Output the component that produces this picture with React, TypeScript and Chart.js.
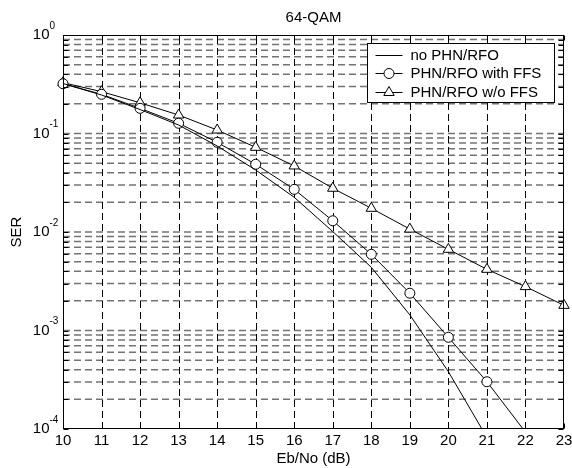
import React, { useEffect, useRef } from "react";
import { Chart, registerables } from "chart.js";

Chart.register(...registerables);

// ---- data ----
const ebNo = [10, 11, 12, 13, 14, 15, 16, 17, 18, 19, 20, 21, 22, 23];
const serNoPhn = [0.322, 0.246, 0.175, 0.122, 0.0747, 0.0426, 0.0225, 0.0101, 0.00438, 0.00144, 0.000382, 0.000082];
const serWithFfs = [0.32, 0.25, 0.18, 0.127, 0.0814, 0.0487, 0.0271, 0.013, 0.00594, 0.00239, 0.000853, 0.000302, 0.000093];
const serWithoutFfs = [0.328, 0.266, 0.205, 0.154, 0.1085, 0.0724, 0.0468, 0.0278, 0.0174, 0.0107, 0.00667, 0.00418, 0.00279, 0.0018];
const xTicks = [10, 11, 12, 13, 14, 15, 16, 17, 18, 19, 20, 21, 22, 23];
const yExponents = [0, -1, -2, -3, -4];
const minorSteps = [2, 3, 4, 5, 6, 7, 8, 9];
const chartTitle = "64-QAM";
const xTitle = "Eb/No (dB)";
const yTitle = "SER";
const legendLabels = ["no PHN/RFO", "PHN/RFO with FFS", "PHN/RFO w/o FFS"];
const legendStyles = ["none", "circle", "triangle"];

const FONT = '"Liberation Sans", Arial, sans-serif';

function toPoints(values: number[]) {
  return values.map((v, i) => ({ x: ebNo[i], y: v }));
}

function drawMarker(ctx: CanvasRenderingContext2D, style: string, x: number, y: number) {
  ctx.save();
  ctx.setLineDash([]);
  ctx.fillStyle = "#fff";
  ctx.strokeStyle = "#000";
  ctx.lineWidth = 1;
  ctx.beginPath();
  if (style === "circle") {
    ctx.arc(x, y, 5, 0, Math.PI * 2);
  } else if (style === "triangle") {
    const r = 6;
    let rad = 0;
    ctx.moveTo(x + Math.sin(rad) * r, y - Math.cos(rad) * r);
    rad += (2 * Math.PI) / 3;
    ctx.lineTo(x + Math.sin(rad) * r, y - Math.cos(rad) * r);
    rad += (2 * Math.PI) / 3;
    ctx.lineTo(x + Math.sin(rad) * r, y - Math.cos(rad) * r);
    ctx.closePath();
  } else {
    ctx.restore();
    return;
  }
  ctx.fill();
  ctx.stroke();
  ctx.restore();
}

const matlabPlugin = {
  id: "matlabAxes",
  beforeDatasetsDraw(chart: any) {
    const { ctx, chartArea: a, scales } = chart;
    const xs = scales.x;
    const ys = scales.y;
    ctx.save();
    ctx.setLineDash([7, 4]);
    // vertical grid
    ctx.strokeStyle = "#000";
    ctx.lineWidth = 1;
    for (const v of xTicks) {
      if (v === xTicks[0] || v === xTicks[xTicks.length - 1]) continue;
      const px = Math.round(xs.getPixelForValue(v)) + 0.5;
      ctx.beginPath();
      ctx.moveTo(px, a.bottom);
      ctx.lineTo(px, a.top);
      ctx.stroke();
    }
    // horizontal grid
    ctx.strokeStyle = "rgba(0,0,0,0.55)";
    ctx.lineWidth = 1.5;
    for (const e of yExponents) {
      const steps = [1, ...minorSteps];
      for (const m of steps) {
        const v = m * Math.pow(10, e);
        if (v >= 1 || v <= 1e-4) continue;
        const py = ys.getPixelForValue(v);
        ctx.beginPath();
        ctx.moveTo(a.left, py);
        ctx.lineTo(a.right, py);
        ctx.stroke();
      }
    }
    ctx.restore();
  },
  afterDatasetsDraw(chart: any) {
    const { ctx, chartArea: a, scales } = chart;
    const xs = scales.x;
    const ys = scales.y;
    ctx.save();
    ctx.setLineDash([]);
    ctx.strokeStyle = "#000";
    ctx.lineWidth = 1;
    // frame
    const L = Math.round(a.left) + 0.5;
    const R = Math.round(a.right) - 0.5;
    const T = Math.round(a.top) + 0.5;
    const B = Math.round(a.bottom) - 0.5;
    ctx.strokeRect(L, T, R - L, B - T);
    // ticks inward
    const tl = 5;
    ctx.beginPath();
    for (const v of xTicks) {
      const px = Math.round(xs.getPixelForValue(v)) + 0.5;
      ctx.moveTo(px, B);
      ctx.lineTo(px, B - tl);
      ctx.moveTo(px, T);
      ctx.lineTo(px, T + tl);
    }
    for (const e of yExponents) {
      for (const m of [1, ...minorSteps]) {
        const v = m * Math.pow(10, e);
        if (v > 1 || v < 1e-4) continue;
        const py = Math.round(ys.getPixelForValue(v)) + 0.5;
        ctx.moveTo(L, py);
        ctx.lineTo(L + tl, py);
        ctx.moveTo(R, py);
        ctx.lineTo(R - tl, py);
      }
    }
    ctx.stroke();

    // tick labels
    ctx.fillStyle = "#000";
    ctx.font = `15px ${FONT}`;
    ctx.textAlign = "center";
    ctx.textBaseline = "middle";
    for (const v of xTicks) {
      ctx.fillText(String(v), xs.getPixelForValue(v), a.bottom + 12);
    }
    for (const e of yExponents) {
      const py = ys.getPixelForValue(Math.pow(10, e));
      ctx.font = `15px ${FONT}`;
      ctx.textAlign = "right";
      ctx.fillText("10", a.left - 13.5, py);
      ctx.font = `10px ${FONT}`;
      ctx.textAlign = "left";
      ctx.fillText(String(e), a.left - 13.5, py - 9);
    }

    // titles
    ctx.font = `15px ${FONT}`;
    ctx.textAlign = "center";
    ctx.fillText(chartTitle, (a.left + a.right) / 2, a.top - 17);
    ctx.fillText(xTitle, (a.left + a.right) / 2, a.bottom + 30);
    ctx.save();
    ctx.translate(17, (a.top + a.bottom) / 2);
    ctx.rotate(-Math.PI / 2);
    ctx.fillText(yTitle, 0, 0);
    ctx.restore();

    // legend
    const bx = Math.round(a.right) - 197 + 0.5;
    const by = Math.round(a.top) + 8 + 0.5;
    const bw = 187;
    const bh = 59;
    ctx.fillStyle = "#fff";
    ctx.fillRect(bx, by, bw, bh);
    ctx.strokeRect(bx, by, bw, bh);
    ctx.fillStyle = "#000";
    ctx.textAlign = "left";
    ctx.textBaseline = "middle";
    for (let i = 0; i < legendLabels.length; i++) {
      const ry = Math.round(by + 11 + i * 18.5) + 0.5;
      ctx.beginPath();
      ctx.moveTo(bx + 8, ry);
      ctx.lineTo(bx + 35, ry);
      ctx.stroke();
      drawMarker(ctx, legendStyles[i], bx + 21.5, ry);
      ctx.fillStyle = "#000";
      ctx.font = `15px ${FONT}`;
      ctx.fillText(legendLabels[i], bx + 43, ry + 0.5);
    }
    ctx.restore();
  },
};

export default function App() {
  const ref = useRef<HTMLCanvasElement | null>(null);
  useEffect(() => {
    if (!ref.current) return;
    const radius = (r: number) => (c: any) => (c.raw && c.raw.y < 1e-4 ? 0 : r);
    const chart = new Chart(ref.current, {
      type: "line",
      data: {
        datasets: [
          {
            label: legendLabels[0],
            data: toPoints(serNoPhn),
            borderColor: "#000",
            borderWidth: 1,
            pointRadius: 0,
            fill: false,
            clip: { left: 10, top: 10, right: 10, bottom: 0 } as any,
          },
          {
            label: legendLabels[1],
            data: toPoints(serWithFfs),
            borderColor: "#000",
            borderWidth: 1,
            pointStyle: "circle",
            pointRadius: radius(5) as any,
            pointBackgroundColor: "#fff",
            pointBorderColor: "#000",
            pointBorderWidth: 1,
            fill: false,
            clip: { left: 10, top: 10, right: 10, bottom: 0 } as any,
          },
          {
            label: legendLabels[2],
            data: toPoints(serWithoutFfs),
            borderColor: "#000",
            borderWidth: 1,
            pointStyle: "triangle",
            pointRadius: radius(6) as any,
            pointBackgroundColor: "#fff",
            pointBorderColor: "#000",
            pointBorderWidth: 1,
            fill: false,
            clip: { left: 10, top: 10, right: 10, bottom: 0 } as any,
          },
        ],
      },
      options: {
        animation: false,
        responsive: false,
        devicePixelRatio: 1,
        layout: { padding: { left: 63, top: 35, right: 8, bottom: 39 } },
        plugins: { legend: { display: false }, title: { display: false }, tooltip: { enabled: false } },
        elements: { line: { tension: 0 } },
        scales: {
          x: { type: "linear", min: 10, max: 23, display: false },
          y: { type: "logarithmic", min: 1e-4, max: 1, display: false },
        },
      },
      plugins: [matlabPlugin],
    });
    return () => chart.destroy();
  }, []);
  return (
    <div style={{ position: "absolute", left: 0, top: 0, width: 572, height: 468, background: "#fff" }}>
      <canvas ref={ref} width={572} height={468} style={{ width: 572, height: 468 }} />
    </div>
  );
}
